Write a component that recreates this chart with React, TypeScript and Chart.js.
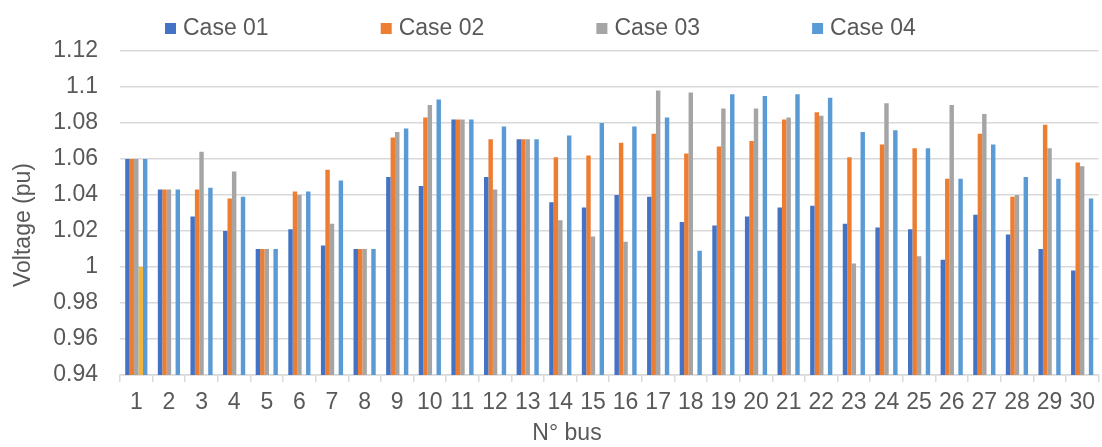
import React, { useEffect, useRef } from "react";
import { Chart, registerables } from "chart.js";

Chart.register(...registerables);

const categories = ["1","2","3","4","5","6","7","8","9","10","11","12","13","14","15","16","17","18","19","20","21","22","23","24","25","26","27","28","29","30"];

const case01 = [1.06,1.043,1.028,1.02,1.01,1.021,1.012,1.01,1.05,1.045,1.082,1.05,1.071,1.036,1.033,1.04,1.039,1.025,1.023,1.028,1.033,1.034,1.024,1.022,1.021,1.004,1.029,1.018,1.01,0.998];
const case02 = [1.06,1.043,1.043,1.038,1.01,1.042,1.054,1.01,1.072,1.083,1.082,1.071,1.071,1.061,1.062,1.069,1.074,1.063,1.067,1.07,1.082,1.086,1.061,1.068,1.066,1.049,1.074,1.039,1.079,1.058];
const case03 = [1.06,1.043,1.064,1.053,1.01,1.04,1.024,1.01,1.075,1.09,1.082,1.043,1.071,1.026,1.017,1.014,1.098,1.097,1.088,1.088,1.083,1.084,1.002,1.091,1.006,1.09,1.085,1.04,1.066,1.056];
const series5 = [1.0,null,null,null,null,null,null,null,null,null,null,null,null,null,null,null,null,null,null,null,null,null,null,null,null,null,null,null,null,null];
const case04 = [1.06,1.043,1.044,1.039,1.01,1.042,1.048,1.01,1.077,1.093,1.082,1.078,1.071,1.073,1.08,1.078,1.083,1.009,1.096,1.095,1.096,1.094,1.075,1.076,1.066,1.049,1.068,1.05,1.049,1.038];

const legendNames = ["Case 01", "Case 02", "Case 03", "Case 04"];
const yTitle = "Voltage (pu)";
const xTitle = "N° bus";

const FONT = "'Liberation Sans', Arial, sans-serif";
const TEXT = "#595959";
const GRID = "#d9d9d9";

const decorPlugin = {
  id: "decor",
  afterDraw(chart: any) {
    const ctx = chart.ctx as CanvasRenderingContext2D;
    ctx.save();
    const colors = ["#4472C4", "#ED7D31", "#A5A5A5", "#5B9BD5"];
    ctx.font = `23px ${FONT}`;
    ctx.textBaseline = "middle";
    ctx.textAlign = "left";
    legendNames.forEach((name, i) => {
      const x = 165 + i * 215.7;
      ctx.fillStyle = colors[i];
      ctx.fillRect(x, 23, 11, 11);
      ctx.fillStyle = TEXT;
      ctx.fillText(name, x + 18, 29);
    });
    ctx.font = `23px ${FONT}`;
    ctx.textAlign = "center";
    ctx.fillStyle = TEXT;
    ctx.save();
    ctx.translate(24, 225);
    ctx.rotate(-Math.PI / 2);
    ctx.fillText(yTitle, 0, 0);
    ctx.restore();
    ctx.fillText(xTitle, 567, 434);
    ctx.restore();
  },
};

export default function App() {
  const ref = useRef<HTMLCanvasElement | null>(null);
  useEffect(() => {
    if (!ref.current) return;
    const chart = new Chart(ref.current, {
      type: "bar",
      data: {
        labels: categories,
        datasets: [
          { label: "Case 01", data: case01, backgroundColor: "#4472C4" },
          { label: "Case 02", data: case02, backgroundColor: "#ED7D31" },
          { label: "Case 03", data: case03, backgroundColor: "#A5A5A5" },
          { label: "Series 5", data: series5 as any, backgroundColor: "#F2B53A" },
          { label: "Case 04", data: case04, backgroundColor: "#5B9BD5" },
        ],
      },
      options: {
        responsive: false,
        animation: false,
        layout: { padding: { top: 51, left: 0, right: 2, bottom: 0 } },
        datasets: { bar: { categoryPercentage: 0.68, barPercentage: 1, borderWidth: 0 } },
        plugins: { legend: { display: false }, tooltip: { enabled: false } },
        scales: {
          x: {
            grid: { display: true, offset: true, drawOnChartArea: false, tickLength: 7, color: GRID, lineWidth: 1.5 },
            border: { display: true, color: GRID, width: 1.5 },
            ticks: { color: TEXT, font: { family: FONT, size: 23 }, padding: 7, maxRotation: 0, autoSkip: false },
            afterFit: (s: any) => { s.height = 72; },
          },
          y: {
            min: 0.94,
            max: 1.12,
            grid: { color: GRID, lineWidth: 1.5, drawTicks: false },
            border: { display: false },
            ticks: {
              stepSize: 0.02,
              color: TEXT,
              font: { family: FONT, size: 23 },
              padding: 22,
              callback: (v: any) => String(parseFloat(Number(v).toFixed(2))),
            },
            afterFit: (s: any) => { s.width = 120; },
          },
        },
      },
      plugins: [decorPlugin],
    });
    return () => chart.destroy();
  }, []);
  return (
    <div style={{ position: "absolute", left: 0, top: 0, width: 1102, height: 447, background: "#fff" }}>
      <canvas ref={ref} width={1102} height={447} />
    </div>
  );
}
